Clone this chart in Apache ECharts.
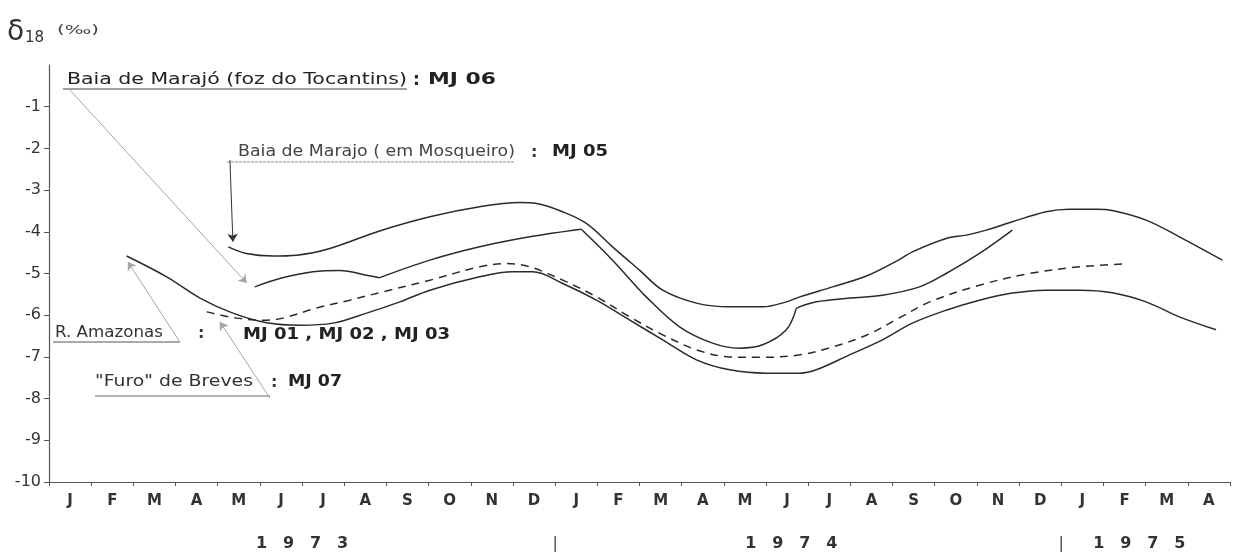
<!DOCTYPE html>
<html>
<head>
<meta charset="utf-8">
<script src="https://cdn.jsdelivr.net/npm/echarts@6/dist/echarts.min.js"></script>
<style>
  html, body { margin: 0; padding: 0; background: #fff; }
  #chart { width: 1239px; height: 555px; }
</style>
</head>
<body>
<div id="chart"></div>
<script>
// Month axis (Jan 1973 .. Apr 1975)
const months = ['J','F','M','A','M','J','J','A','S','O','N','D',
                'J','F','M','A','M','J','J','A','S','O','N','D',
                'J','F','M','A'];
// δ18 axis ticks (‰)
const yTicks = [-10, -9, -8, -7, -6, -5, -4, -3, -2, -1];
// Year row under the months: text and position in months from Jan 1973
const yearText  = ['1973', '|', '1974', '|', '1975'];
const yearMarks = [6, 12, 17.6, 24, 25.85];

// δ18O (‰) curves, x = months since 1 Jan 1973
const mj05 = [[4.25,-4.36],[4.68,-4.52],[5.31,-4.58],[5.87,-4.56],[6.66,-4.40],[7.84,-3.98],
  [9.03,-3.64],[10.21,-3.40],[11.16,-3.30],[11.56,-3.32],[12.18,-3.52],[12.74,-3.80],
  [13.36,-4.36],[14.0,-4.92],[14.55,-5.40],[15.35,-5.71],[16.14,-5.80],[16.92,-5.80],
  [17.48,-5.68],[17.80,-5.56],[18.58,-5.32],[19.38,-5.06],[20.17,-4.66],[20.47,-4.48],
  [21.27,-4.16],[21.75,-4.08],[22.22,-3.96],[22.84,-3.76],[23.64,-3.52],[24.19,-3.46],
  [24.83,-3.46],[25.21,-3.49],[26.01,-3.72],[26.80,-4.12],[27.82,-4.68]];

// MJ06 is drawn in pieces so its sharp bends stay sharp
const mj06a = [[4.88,-5.32],[5.47,-5.12],[6.26,-4.96],[6.90,-4.93],[7.53,-5.04],[7.84,-5.10]];
const mj06b = [[7.84,-5.10],[9.03,-4.68],[10.21,-4.36],[11.40,-4.12],[12.62,-3.94]];
const mj06c = [[12.62,-3.94],[13.36,-4.68],[14.16,-5.56],[14.95,-6.28],[15.73,-6.67],
  [16.37,-6.79],[16.92,-6.71],[17.48,-6.35],[17.72,-5.83]];
const mj06d = [[17.72,-5.83],[18.19,-5.68],[18.98,-5.59],[19.76,-5.52],[20.64,-5.32],
  [21.27,-5.00],[22.06,-4.52],[22.84,-3.96]];

const amazonas = [[1.84,-4.58],[2.79,-5.08],[3.58,-5.59],[4.36,-5.95],[5.16,-6.18],[5.95,-6.24],
  [6.73,-6.19],[7.53,-5.95],[8.32,-5.68],[9.03,-5.40],[10.21,-5.08],[11.0,-4.96],[11.47,-4.96],
  [12.18,-5.24],[12.98,-5.64],[13.77,-6.12],[14.55,-6.59],[15.35,-7.07],[16.14,-7.31],
  [17.01,-7.39],[17.80,-7.39],[18.19,-7.31],[18.98,-6.95],[19.76,-6.59],[20.47,-6.19],
  [21.27,-5.88],[22.06,-5.64],[22.84,-5.47],[23.64,-5.40],[24.43,-5.40],[25.21,-5.46],
  [26.01,-5.68],[26.80,-6.04],[27.67,-6.35]];

const breves = [[3.74,-5.92],[4.45,-6.07],[5.16,-6.12],[5.55,-6.07],[6.34,-5.83],[7.13,-5.64],
  [7.91,-5.44],[9.03,-5.16],[10.21,-4.84],[10.85,-4.76],[11.40,-4.84],[12.18,-5.16],
  [12.98,-5.56],[13.77,-6.04],[14.55,-6.47],[15.35,-6.83],[16.14,-7.0],[16.92,-7.01],
  [17.80,-6.95],[18.58,-6.76],[19.38,-6.48],[20.17,-6.06],[20.88,-5.68],[22.06,-5.28],
  [23.25,-5.0],[24.43,-4.84],[25.54,-4.77]];

// Leader arrows from the labels to the start of each curve
const leaderMJ06     = [[0.45,-0.55],[4.69,-5.23]];
const leaderMJ05     = [[4.29,-2.28],[4.36,-4.24]];
const leaderAmazonas = [[3.10,-6.64],[1.87,-4.72]];
const leaderBreves   = [[5.24,-7.99],[4.05,-6.16]];

const FONT = '"DejaVu Sans", sans-serif';
const INK = '#2a2a2a';

// stretch a label horizontally so it spans the given width
const measureCtx = document.createElement('canvas').getContext('2d');
function textEl(text, x, y, size, weight, fill, width) {
  const font = weight + ' ' + size + 'px ' + FONT;
  let sx = 1;
  if (width) {
    measureCtx.font = font;
    sx = width / measureCtx.measureText(text).width;
  }
  return {
    type: 'text', x: x, y: y, scaleX: sx, silent: true,
    style: { text: text, font: font, fill: fill,
             align: 'left', textAlign: 'left',
             verticalAlign: 'middle', textVerticalAlign: 'middle' }
  };
}
function rule(x1, x2, y, stroke, width, dash) {
  return { type: 'line', silent: true,
           shape: { x1: x1, y1: y, x2: x2, y2: y },
           style: { stroke: stroke, lineWidth: width || 1, lineDash: dash || null } };
}

function curve(name, data, dashed) {
  return {
    name: name, type: 'line', xAxisIndex: 1, yAxisIndex: 0,
    data: data, smooth: 0.35, showSymbol: false, symbol: 'none',
    lineStyle: { color: INK, width: 1.5, type: dashed ? [8, 6] : 'solid' },
    silent: true
  };
}

const chart = echarts.init(document.getElementById('chart'));
chart.setOption({
  animation: false,
  backgroundColor: '#ffffff',
  grid: { left: 49, right: 9, top: 65, bottom: 73, containLabel: false },
  xAxis: [
    {
      type: 'category', data: months, boundaryGap: true, position: 'bottom',
      axisLine: { onZero: false, lineStyle: { color: '#555', width: 1.2 } },
      axisTick: { show: true, interval: 0, length: 4, lineStyle: { color: '#555' } },
      axisLabel: { interval: 0, margin: 12, color: '#333', fontFamily: FONT, fontSize: 15, fontWeight: 'bold' },
      splitLine: { show: false }
    },
    {
      type: 'value', min: 0, max: 28, show: false, position: 'top',
      axisLine: { onZero: false }
    },
    {
      type: 'value', min: 0, max: 28, position: 'bottom', offset: 46,
      axisLine: { show: false, onZero: false }, axisTick: { show: false }, splitLine: { show: false },
      axisLabel: {
        customValues: yearMarks, margin: 8, color: '#333',
        formatter: function (v) {
          const t = yearText[yearMarks.indexOf(v)] || '';
          if (t === '|') return '{bar|' + t + '}';
          return t.split('').map(function (c) { return '{d|' + c + '}'; }).join('');
        },
        rich: {
          d: { width: 27, align: 'center', fontFamily: FONT, fontSize: 16, fontWeight: 'bold', color: '#333' },
          bar: { fontFamily: FONT, fontSize: 16, color: '#444' }
        }
      }
    }
  ],
  yAxis: {
    type: 'value', min: -10, max: 0, interval: 1,
    axisLine: { show: true, onZero: false, lineStyle: { color: '#555', width: 1.2 } },
    axisTick: { show: true, length: 5, customValues: yTicks, lineStyle: { color: '#555' } },
    axisLabel: {
      margin: 8, color: '#333', fontFamily: FONT, fontSize: 16,
      customValues: yTicks,
      formatter: function (v) { return String(v); }
    },
    splitLine: { show: false }
  },
  series: [
    curve('MJ 05', mj05),
    curve('MJ 06', mj06a), curve('MJ 06', mj06b), curve('MJ 06', mj06c), curve('MJ 06', mj06d),
    curve('MJ 01, MJ 02, MJ 03', amazonas),
    curve('MJ 07', breves, true),
    {
      type: 'lines', coordinateSystem: 'cartesian2d', xAxisIndex: 1, yAxisIndex: 0,
      symbol: ['none', 'arrow'], symbolSize: [4, 8], silent: true,
      lineStyle: { width: 1, curveness: 0, opacity: 1 },
      data: [
        { coords: leaderMJ06, lineStyle: { color: '#a6a6a6' } },
        { coords: leaderMJ05, lineStyle: { color: '#333' } },
        { coords: leaderAmazonas, lineStyle: { color: '#a6a6a6' } },
        { coords: leaderBreves, lineStyle: { color: '#a6a6a6' } }
      ]
    }
  ],
  graphic: [
    textEl('δ', 7, 33, 28, 'normal', '#333'),
    textEl('18', 25, 38, 15, 'normal', '#333'),
    textEl('(‰)', 57, 31, 13, 'normal', '#444', 42),

    textEl('Baia de Marajó (foz do Tocantins)', 67, 80, 16, 'normal', '#222', 340),
    rule(63, 407, 89, '#444', 1.2),
    textEl(':', 413, 81, 17, 'bold', '#222'),
    textEl('MJ 06', 428, 80, 16, 'bold', '#222', 68),

    textEl('Baia de Marajo ( em Mosqueiro)', 238, 152, 15, 'normal', '#444', 277),
    rule(227, 515, 162, '#888', 1, [3, 1]),
    textEl(':', 531, 153, 16, 'bold', '#333'),
    textEl('MJ 05', 552, 152, 16, 'bold', '#222', 56),

    textEl('R. Amazonas', 55, 333, 15, 'normal', '#333', 108),
    rule(53, 180, 342, '#555', 1),
    textEl(':', 198, 334, 16, 'bold', '#333'),
    textEl('MJ 01 , MJ 02 , MJ 03', 243, 335, 16, 'bold', '#222', 207),

    textEl('"Furo" de Breves', 95, 382, 15, 'normal', '#333', 158),
    rule(95, 270, 396, '#666', 1),
    textEl(':', 271, 383, 16, 'bold', '#333'),
    textEl('MJ 07', 288, 382, 16, 'bold', '#222', 54)
  ]
});
</script>
</body>
</html>
